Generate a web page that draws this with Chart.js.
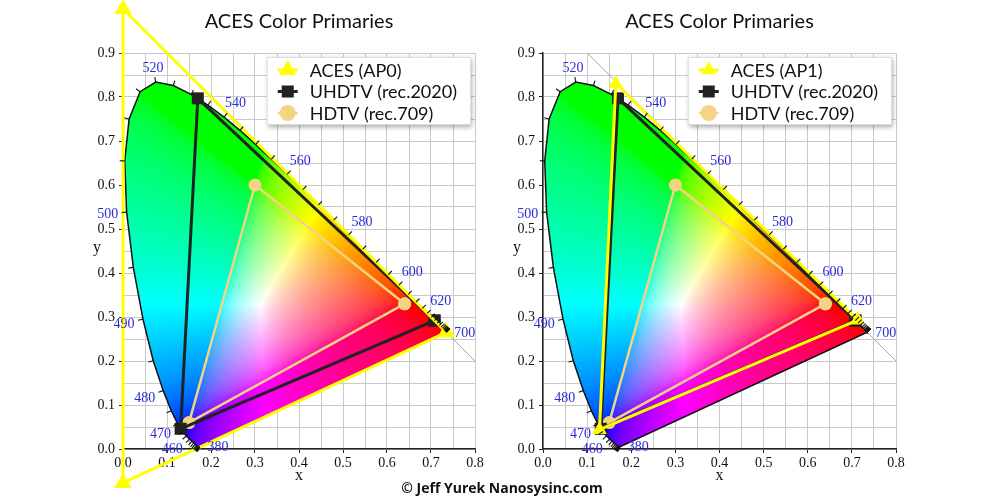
<!DOCTYPE html>
<html>
<head>
<meta charset="utf-8">
<script src="https://cdn.jsdelivr.net/npm/chart.js@4.4.1/dist/chart.umd.min.js"></script>
<style>
  html, body { margin: 0; padding: 0; background: #fff; }
  #wrap { position: relative; width: 1000px; height: 497px; overflow: hidden; }
  .panel { position: absolute; top: 0; width: 500px; height: 497px; }
  #left { left: 0; }
  #right { left: 500px; }
  #credit {
    position: absolute; left: 0; top: 478px; width: 1004px; text-align: center;
    font: bold 14px "Open Sans", sans-serif; color: #111;
  }
</style>
</head>
<body>
<div id="wrap">
  <div class="panel" id="left"><canvas id="chart-ap0"></canvas></div>
  <div class="panel" id="right"><canvas id="chart-ap1"></canvas></div>
  <div id="credit">© Jeff Yurek Nanosysinc.com</div>
</div>
<script>
"use strict";

// CIE 1931 spectral locus, 380-700 nm in 5 nm steps
const LOCUS_NM = [
  380, 385, 390, 395, 400, 405, 410, 415, 420, 425, 430, 435, 440, 445, 450, 455,
  460, 465, 470, 475, 480, 485, 490, 495, 500, 505, 510, 515, 520, 525, 530, 535,
  540, 545, 550, 555, 560, 565, 570, 575, 580, 585, 590, 595, 600, 605, 610, 615,
  620, 625, 630, 635, 640, 645, 650, 655, 660, 665, 670, 675, 680, 685, 690, 695, 700,
];
const LOCUS_X = [
  0.1741, 0.1740, 0.1738, 0.1736, 0.1733, 0.1730, 0.1726, 0.1721, 0.1714, 0.1703, 0.1689, 0.1669, 0.1644, 0.1611, 0.1566, 0.1510,
  0.1440, 0.1355, 0.1241, 0.1096, 0.0913, 0.0687, 0.0454, 0.0235, 0.0082, 0.0039, 0.0139, 0.0389, 0.0743, 0.1142, 0.1547, 0.1929,
  0.2296, 0.2658, 0.3016, 0.3373, 0.3731, 0.4087, 0.4441, 0.4788, 0.5125, 0.5448, 0.5752, 0.6029, 0.6270, 0.6482, 0.6658, 0.6801,
  0.6915, 0.7006, 0.7079, 0.7140, 0.7190, 0.7230, 0.7260, 0.7283, 0.7300, 0.7311, 0.7320, 0.7327, 0.7334, 0.7340, 0.7344, 0.7346, 0.7347,
];
const LOCUS_Y = [
  0.0050, 0.0050, 0.0049, 0.0049, 0.0048, 0.0048, 0.0048, 0.0048, 0.0051, 0.0058, 0.0069, 0.0086, 0.0109, 0.0138, 0.0177, 0.0227,
  0.0297, 0.0399, 0.0578, 0.0868, 0.1327, 0.2007, 0.2950, 0.4127, 0.5384, 0.6548, 0.7502, 0.8120, 0.8338, 0.8262, 0.8059, 0.7816,
  0.7543, 0.7243, 0.6923, 0.6589, 0.6245, 0.5896, 0.5547, 0.5202, 0.4866, 0.4544, 0.4242, 0.3965, 0.3725, 0.3514, 0.3340, 0.3197,
  0.3083, 0.2993, 0.2920, 0.2859, 0.2809, 0.2770, 0.2740, 0.2717, 0.2700, 0.2689, 0.2680, 0.2673, 0.2666, 0.2660, 0.2656, 0.2654, 0.2653,
];
const LABELED_NM = [380, 460, 470, 480, 490, 500, 520, 540, 560, 580, 600, 620, 700];

// primaries: red, green, blue
const AP0_X = [0.7347, 0.0000, 0.0001];
const AP0_Y = [0.2653, 1.0000, -0.0770];
const AP1_X = [0.713, 0.165, 0.128];
const AP1_Y = [0.293, 0.830, 0.044];
const REC2020_X = [0.708, 0.170, 0.131];
const REC2020_Y = [0.292, 0.797, 0.046];
const REC709_X = [0.64, 0.30, 0.15];
const REC709_Y = [0.33, 0.60, 0.06];

// x + y = 1 guide line
const DIAGONAL_X = [0.1, 0.8];
const DIAGONAL_Y = [0.9, 0.2];

const X_MAX = 0.8;
const Y_MAX = 0.9;
const GRID_STEP = 0.05;

const COLORS = {
  aces: "#ffff00",
  rec2020: "#222222",
  rec709: "#f4d483",
  locus: "#111111",
  grid: "#c9c9c9",
  wavelength: "#2b2bd6",
  diagonal: "#a8a8a8",
};

const SERIF = '"Liberation Serif", "DejaVu Serif", serif';
const SANS = 'Lato, "Open Sans", sans-serif';

function toPoints(xs, ys, close) {
  const pts = xs.map((x, i) => ({ x: x, y: ys[i] }));
  if (close) {
    pts.push({ x: xs[0], y: ys[0] });
  }
  return pts;
}

function gammaEncode(v) {
  return v <= 0.0031308 ? 12.92 * v : 1.055 * Math.pow(v, 1 / 2.4) - 0.055;
}

// xy chromaticity -> display colour, clipped and normalised to the brightest channel
function chromaticityRgb(x, y) {
  if (y <= 0) {
    return [0, 0, 0];
  }
  const X = x / y;
  const Z = (1 - x - y) / y;
  let r = 3.2406 * X - 1.5372 - 0.4986 * Z;
  let g = -0.9689 * X + 1.8758 + 0.0415 * Z;
  let b = 0.0557 * X - 0.2040 + 1.0570 * Z;
  r = Math.max(r, 0);
  g = Math.max(g, 0);
  b = Math.max(b, 0);
  const m = Math.max(r, g, b) || 1;
  return [r / m, g / m, b / m].map((v) => Math.round(255 * gammaEncode(v)));
}

function tracePath(ctx, chart, xs, ys) {
  const { x: xScale, y: yScale } = chart.scales;
  ctx.beginPath();
  xs.forEach((xv, i) => {
    const px = xScale.getPixelForValue(xv);
    const py = yScale.getPixelForValue(ys[i]);
    if (i === 0) {
      ctx.moveTo(px, py);
    } else {
      ctx.lineTo(px, py);
    }
  });
  ctx.closePath();
}

const locusFillPlugin = {
  id: "locusFill",
  beforeDatasetsDraw(chart) {
    const { ctx, chartArea, scales } = chart;
    const left = Math.floor(chartArea.left);
    const top = Math.floor(chartArea.top);
    const w = Math.ceil(chartArea.right) - left;
    const h = Math.ceil(chartArea.bottom) - top;
    const off = document.createElement("canvas");
    off.width = w;
    off.height = h;
    const octx = off.getContext("2d");
    const img = octx.createImageData(w, h);
    for (let j = 0; j < h; j++) {
      const yv = scales.y.getValueForPixel(top + j + 0.5);
      for (let i = 0; i < w; i++) {
        const xv = scales.x.getValueForPixel(left + i + 0.5);
        const rgb = chromaticityRgb(xv, yv);
        const k = (j * w + i) * 4;
        img.data[k] = rgb[0];
        img.data[k + 1] = rgb[1];
        img.data[k + 2] = rgb[2];
        img.data[k + 3] = 255;
      }
    }
    octx.putImageData(img, 0, 0);
    ctx.save();
    tracePath(ctx, chart, LOCUS_X, LOCUS_Y);
    ctx.clip();
    ctx.drawImage(off, left, top);
    ctx.restore();
  },
};

// Chart.js skips point markers that fall outside the chart area; the AP0
// primaries sit outside the axes, so draw those markers here.
const outsidePointsPlugin = {
  id: "outsidePoints",
  afterDatasetDraw(chart, args) {
    const area = chart.chartArea;
    const wide = { left: -1e4, top: -1e4, right: 1e4, bottom: 1e4 };
    for (const el of args.meta.data) {
      const inside = el.x >= area.left && el.x <= area.right && el.y >= area.top && el.y <= area.bottom;
      if (!inside && el.options.radius > 0) {
        el.draw(chart.ctx, wide);
      }
    }
  },
};

const wavelengthPlugin = {
  id: "wavelengths",
  afterDatasetsDraw(chart) {
    const { ctx, scales } = chart;
    const px = LOCUS_X.map((v) => scales.x.getPixelForValue(v));
    const py = LOCUS_Y.map((v) => scales.y.getPixelForValue(v));
    const last = px.length - 1;
    const tickLen = 5;

    const normalAt = (i) => {
      let a = i;
      let b = i;
      while ((a > 0 || b < last) && Math.hypot(px[b] - px[a], py[b] - py[a]) < 3) {
        if (a > 0) a--;
        if (b < last) b++;
      }
      const tx = px[b] - px[a];
      const ty = py[b] - py[a];
      const len = Math.hypot(tx, ty) || 1;
      return [ty / len, -tx / len];
    };

    ctx.save();
    ctx.strokeStyle = COLORS.locus;
    ctx.lineWidth = 1.1;
    for (let i = 0; i <= last; i++) {
      const [nx, ny] = normalAt(i);
      ctx.beginPath();
      ctx.moveTo(px[i], py[i]);
      ctx.lineTo(px[i] + nx * tickLen, py[i] + ny * tickLen);
      ctx.stroke();
    }

    ctx.font = "14px " + SERIF;
    ctx.fillStyle = COLORS.wavelength;
    ctx.textAlign = "center";
    ctx.textBaseline = "middle";
    const textH = 10;
    LABELED_NM.forEach((nm) => {
      const i = LOCUS_NM.indexOf(nm);
      // the two ends of the locus get their label to the right
      const [dx, dy] = (i === 0 || i === last) ? [1, 0] : normalAt(i);
      const text = String(nm);
      const w = ctx.measureText(text).width;
      const d = tickLen + 3 + Math.abs(dx) * w / 2 + Math.abs(dy) * textH / 2;
      ctx.fillText(text, px[i] + dx * d, py[i] + dy * d + 1);
    });
    ctx.restore();
  },
};

const yTitlePlugin = {
  id: "yTitle",
  afterDraw(chart) {
    const { ctx, chartArea } = chart;
    ctx.save();
    ctx.font = "16px " + SERIF;
    ctx.fillStyle = "#111";
    ctx.textAlign = "center";
    ctx.textBaseline = "middle";
    ctx.fillText("y", chartArea.left - 26, (chartArea.top + chartArea.bottom) / 2 - 3);
    ctx.restore();
  },
};

const insideLegendPlugin = {
  id: "insideLegend",
  afterDraw(chart) {
    const { ctx, chartArea } = chart;
    const items = chart.data.datasets.filter((ds) => ds.label);
    ctx.save();
    ctx.font = "18px " + SANS;
    const textW = Math.max(...items.map((ds) => ctx.measureText(ds.label).width));
    const boxW = 43 + textW + 14;
    const boxH = 68;
    const boxX = chartArea.right - 4 - boxW;
    const boxY = chartArea.top + 4;

    ctx.shadowColor = "rgba(0, 0, 0, 0.35)";
    ctx.shadowBlur = 5;
    ctx.shadowOffsetX = 1;
    ctx.shadowOffsetY = 2;
    ctx.fillStyle = "#ffffff";
    ctx.fillRect(boxX, boxY, boxW, boxH);
    ctx.shadowColor = "rgba(0, 0, 0, 0)";
    ctx.strokeStyle = "#dddddd";
    ctx.lineWidth = 1;
    ctx.strokeRect(boxX + 0.5, boxY + 0.5, boxW - 1, boxH - 1);

    items.forEach((ds, k) => {
      const cy = boxY + 13 + k * 21.5;
      const cx = boxX + 21;
      ctx.strokeStyle = ds.borderColor;
      ctx.lineWidth = ds.borderWidth;
      ctx.beginPath();
      ctx.moveTo(cx - 10, cy);
      ctx.lineTo(cx + 10, cy);
      ctx.stroke();
      ctx.fillStyle = ds.backgroundColor;
      ctx.strokeStyle = ds.backgroundColor;
      Chart.helpers.drawPoint(ctx, {
        pointStyle: ds.pointStyle,
        radius: Math.max(ds.pointRadius, 8),
        rotation: 0,
        borderWidth: 0,
      }, cx, cy);
      ctx.fillStyle = "#111";
      ctx.textAlign = "left";
      ctx.textBaseline = "middle";
      ctx.fillText(ds.label, boxX + 43, cy + 1);
    });
    ctx.restore();
  },
};

function gamutDataset(label, xs, ys, color, pointStyle, radius, width) {
  return {
    label: label,
    data: toPoints(xs, ys, true),
    showLine: true,
    borderColor: color,
    backgroundColor: color,
    borderWidth: width,
    borderJoinStyle: "round",
    pointStyle: pointStyle,
    pointRadius: radius,
    pointBorderWidth: 0,
    clip: false,
  };
}

function isMajor(value) {
  return Math.abs(value * 10 - Math.round(value * 10)) < 1e-6;
}

function axisOptions(max, titleText) {
  return {
    type: "linear",
    min: 0,
    max: max,
    ticks: {
      stepSize: GRID_STEP,
      autoSkip: false,
      maxRotation: 0,
      minRotation: 0,
      padding: 2,
      color: "#111",
      font: { family: SERIF, size: 14 },
      callback: (value) => (isMajor(value) ? value.toFixed(1) : ""),
    },
    grid: {
      color: COLORS.grid,
      lineWidth: 1,
      tickLength: 4,
      tickColor: (c) => (c.tick && isMajor(c.tick.value) ? "#222" : "rgba(0,0,0,0)"),
    },
    border: { color: "#222", width: 1.5 },
    title: titleText ? {
      display: true,
      text: titleText,
      color: "#111",
      font: { family: SERIF, size: 16 },
      padding: { top: 0, bottom: 4 },
    } : { display: false },
  };
}

function createChart(canvasId, acesLabel, acesX, acesY, acesRadius, padLeft, padRight) {
  const xAxis = axisOptions(X_MAX, "x");
  xAxis.afterFit = (scale) => { scale.height = 40; };
  const yAxis = axisOptions(Y_MAX, null);
  yAxis.ticks.padding = 4;
  yAxis.afterFit = (scale) => { scale.width = 40; };

  return new Chart(document.getElementById(canvasId), {
    type: "scatter",
    data: {
      datasets: [
        gamutDataset(acesLabel, acesX, acesY, COLORS.aces, "triangle", acesRadius, 3),
        gamutDataset("UHDTV (rec.2020)", REC2020_X, REC2020_Y, COLORS.rec2020, "rect", 8.5, 3),
        gamutDataset("HDTV (rec.709)", REC709_X, REC709_Y, COLORS.rec709, "circle", 6.5, 2.5),
        {
          label: "",
          data: toPoints(LOCUS_X, LOCUS_Y, true),
          showLine: true,
          borderColor: COLORS.locus,
          borderWidth: 1.5,
          pointRadius: 0,
          clip: false,
        },
        {
          label: "",
          data: toPoints(DIAGONAL_X, DIAGONAL_Y, false),
          showLine: true,
          borderColor: COLORS.diagonal,
          borderWidth: 1,
          pointRadius: 0,
        },
      ],
    },
    options: {
      responsive: true,
      maintainAspectRatio: false,
      animation: false,
      events: [],
      layout: { padding: { left: padLeft, right: padRight, top: 0, bottom: 8 } },
      scales: { x: xAxis, y: yAxis },
      plugins: {
        legend: { display: false },
        tooltip: { enabled: false },
        title: {
          display: true,
          text: "ACES Color Primaries",
          fullSize: false,
          color: "#111",
          font: { family: SANS, size: 20, weight: "normal", lineHeight: 1.2 },
          padding: { top: 10, bottom: 19 },
        },
      },
    },
    plugins: [locusFillPlugin, outsidePointsPlugin, wavelengthPlugin, yTitlePlugin, insideLegendPlugin],
  });
}

document.addEventListener("DOMContentLoaded", () => {
  Chart.defaults.font.family = SERIF;
  createChart("chart-ap0", "ACES (AP0)", AP0_X, AP0_Y, 10, 83, 25);
  createChart("chart-ap1", "ACES (AP1)", AP1_X, AP1_Y, 8.5, 3, 104);
});
</script>
</body>
</html>
